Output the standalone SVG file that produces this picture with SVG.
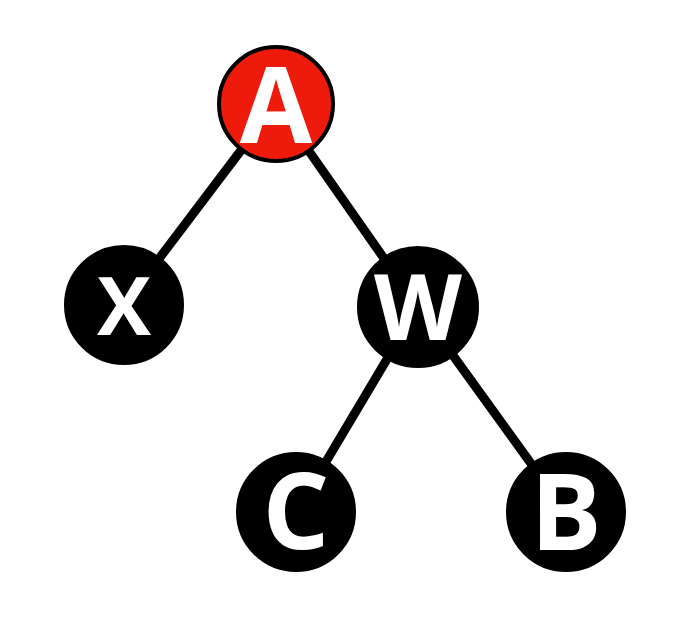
<svg xmlns="http://www.w3.org/2000/svg" width="673" height="624" viewBox="0 0 673 624">
<style>
.edge{stroke:#000;stroke-width:9;stroke-linecap:butt}
.node{fill:#000;stroke:#000;stroke-width:4}
.red{fill:#ee1b0c}
.lbl{font-family:"Open Sans","Liberation Sans",sans-serif;font-weight:bold;fill:#fff;text-anchor:middle}
</style>
<rect width="673" height="624" fill="#fff"/>
<g id="connectors">
<line class="edge" x1="276" y1="104" x2="124" y2="305"/>
<line class="edge" x1="276" y1="104" x2="418" y2="307"/>
<line class="edge" x1="418" y1="307" x2="296" y2="512"/>
<line class="edge" x1="418" y1="307" x2="566" y2="512"/>
</g>
<g id="node-A"><circle class="node red" cx="276" cy="104" r="57"/><text class="lbl" x="276" y="143" font-size="105">A</text></g>
<g id="node-X"><circle class="node" cx="124" cy="305" r="58"/><text class="lbl" x="124" y="335" font-size="81">X</text></g>
<g id="node-W"><circle class="node" cx="418" cy="307" r="59"/><text class="lbl" x="418" y="340" font-size="91">W</text></g>
<g id="node-C"><circle class="node" cx="296" cy="512" r="58"/><text class="lbl" x="296" y="549" font-size="105">C</text></g>
<g id="node-B"><circle class="node" cx="566" cy="512" r="58"/><text class="lbl" x="566" y="550" font-size="106">B</text></g>
</svg>
